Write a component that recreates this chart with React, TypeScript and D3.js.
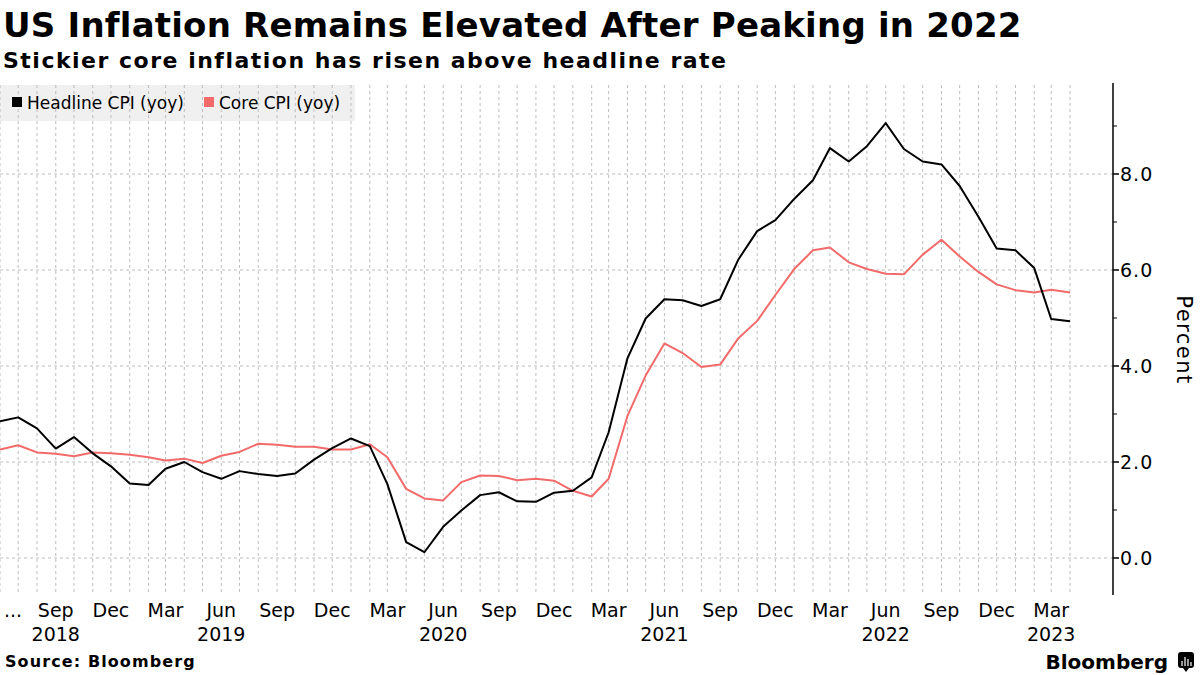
import * as d3 from 'd3';

// monthly, Jun 2018 .. Apr 2023
const startMonth = new Date(2018, 5, 1);
const headline = [
  2.85, 2.93, 2.7, 2.28, 2.52, 2.18, 1.91,
  1.55, 1.52, 1.86, 2.0, 1.79, 1.65, 1.81, 1.75, 1.71, 1.76, 2.05, 2.29,
  2.49, 2.33, 1.54, 0.33, 0.12, 0.65, 0.99, 1.31, 1.37, 1.18, 1.17, 1.36,
  1.4, 1.68, 2.62, 4.16, 4.99, 5.39, 5.37, 5.25, 5.39, 6.22, 6.81, 7.04,
  7.48, 7.87, 8.54, 8.26, 8.58, 9.06, 8.52, 8.26, 8.2, 7.75, 7.11, 6.45,
  6.41, 6.04, 4.98, 4.93,
];
const core = [
  2.26, 2.35, 2.2, 2.17, 2.12, 2.2, 2.18,
  2.15, 2.1, 2.03, 2.07, 1.98, 2.13, 2.21, 2.38, 2.36, 2.32, 2.32, 2.26,
  2.26, 2.37, 2.1, 1.44, 1.24, 1.2, 1.58, 1.72, 1.71, 1.62, 1.65, 1.61,
  1.4, 1.28, 1.65, 2.96, 3.8, 4.47, 4.27, 3.98, 4.03, 4.58, 4.94, 5.48,
  6.02, 6.41, 6.47, 6.16, 6.02, 5.92, 5.91, 6.32, 6.63, 6.28, 5.96, 5.7,
  5.58, 5.53, 5.59, 5.53,
];
const yTicks = [0, 2, 4, 6, 8];
const yMinor = [1, 3, 5, 7, 9];
const yearLabels = [
  { date: new Date(2018, 8, 1), label: '2018' },
  { date: new Date(2019, 5, 1), label: '2019' },
  { date: new Date(2020, 5, 1), label: '2020' },
  { date: new Date(2021, 5, 1), label: '2021' },
  { date: new Date(2022, 5, 1), label: '2022' },
  { date: new Date(2023, 2, 1), label: '2023' },
];

const months = headline.map((_, i) => d3.timeMonth.offset(startMonth, i));
const monthNames = ['Jan', 'Feb', 'Mar', 'Apr', 'May', 'Jun', 'Jul', 'Aug', 'Sep', 'Oct', 'Nov', 'Dec'];

const FONT = '"DejaVu Sans", Verdana, sans-serif';
const CORE_COLOR = '#f26a6a';

export default function App() {
  const x = d3.scaleTime().domain([months[0], months[months.length - 1]]).range([0, 1070]);
  const y = d3.scaleLinear().domain([0, 8]).range([558, 174]);
  const plotTop = 85;
  const plotBottom = 595;
  const axisX = 1113;

  const line = d3.line<number>()
    .x((_, i) => x(months[i]))
    .y(d => y(d));

  // first month's label is shown truncated as "..."
  const quarterTicks = months.slice(1).filter(m => m.getMonth() % 3 === 2);

  return (
    <div style={{ position: 'fixed', left: 0, top: 0 }}>
      <svg width={1200} height={675} style={{ display: 'block', background: '#fff', fontFamily: FONT }}>
        <text x={3} y={37} fontSize={34} fontWeight="bold" letterSpacing={0.2}>US Inflation Remains Elevated After Peaking in 2022</text>
        <text x={3} y={68} fontSize={22} fontWeight="bold" letterSpacing={1.5}>Stickier core inflation has risen above headline rate</text>

        <rect x={0} y={plotTop} width={355} height={36} fill="#f0f0f0" />

        {months.map((m, i) => (
          <line key={'v' + i} x1={x(m)} x2={x(m)} y1={plotTop} y2={plotBottom}
            stroke="#bdbdbd" strokeDasharray="3,3" strokeWidth={1} />
        ))}
        {yTicks.map(t => (
          <line key={'h' + t} x1={0} x2={axisX} y1={y(t)} y2={y(t)}
            stroke="#bdbdbd" strokeDasharray="3,3" strokeWidth={1} />
        ))}

        <g>
          <rect x={12} y={97} width={10} height={10} fill="#000" />
          <text x={27} y={109} fontSize={17}>Headline CPI (yoy)</text>
          <rect x={204} y={97} width={10} height={10} fill={CORE_COLOR} />
          <text x={219} y={109} fontSize={17}>Core CPI (yoy)</text>
        </g>

        <path d={line(core) || ''} fill="none" stroke={CORE_COLOR} strokeWidth={2} strokeLinejoin="round" />
        <path d={line(headline) || ''} fill="none" stroke="#000" strokeWidth={2} strokeLinejoin="round" />

        <line x1={axisX} x2={axisX} y1={83} y2={plotBottom} stroke="#000" strokeWidth={1.5} />
        {yTicks.map(t => (
          <g key={'yt' + t}>
            <line x1={axisX} x2={axisX + 6} y1={y(t)} y2={y(t)} stroke="#000" strokeWidth={1.5} />
            <text x={axisX + 7} y={y(t)} dy="0.35em" fontSize={19} letterSpacing={1}>{t.toFixed(1)}</text>
          </g>
        ))}
        {yMinor.map(t => (
          <line key={'ym' + t} x1={axisX} x2={axisX + 4} y1={y(t)} y2={y(t)} stroke="#000" strokeWidth={1} />
        ))}
        <text transform={`translate(1177, 340) rotate(90)`} textAnchor="middle" fontSize={21} letterSpacing={1.5}>Percent</text>

        <text x={x(months[0]) + 4} y={617} fontSize={19}>...</text>
        {quarterTicks.map((m, i) => (
          <text key={'xl' + i} x={x(m)} y={617} textAnchor="middle" fontSize={19}>{monthNames[m.getMonth()]}</text>
        ))}
        {yearLabels.map(d => (
          <text key={d.label} x={x(d.date)} y={641} textAnchor="middle" fontSize={19}>{d.label}</text>
        ))}

        <text x={5} y={667} fontSize={16} fontWeight="bold" letterSpacing={1.1}>Source: Bloomberg</text>
        <text x={1168} y={669} textAnchor="end" fontSize={20} fontWeight="bold">Bloomberg</text>
        <g>
          <rect x={1178} y={652} width={16} height={16} rx={3} fill="#000" />
          <path d="M1183,668 L1186,672 L1189,668 Z" fill="#000" />
          <line x1={1182} x2={1182} y1={661} y2={666} stroke="#fff" strokeWidth={1.2} />
          <line x1={1185} x2={1185} y1={657} y2={666} stroke="#fff" strokeWidth={1.2} />
          <line x1={1188} x2={1188} y1={659} y2={666} stroke="#fff" strokeWidth={1.2} />
          <line x1={1191} x2={1191} y1={662} y2={666} stroke="#fff" strokeWidth={1.2} />
        </g>
      </svg>
    </div>
  );
}
